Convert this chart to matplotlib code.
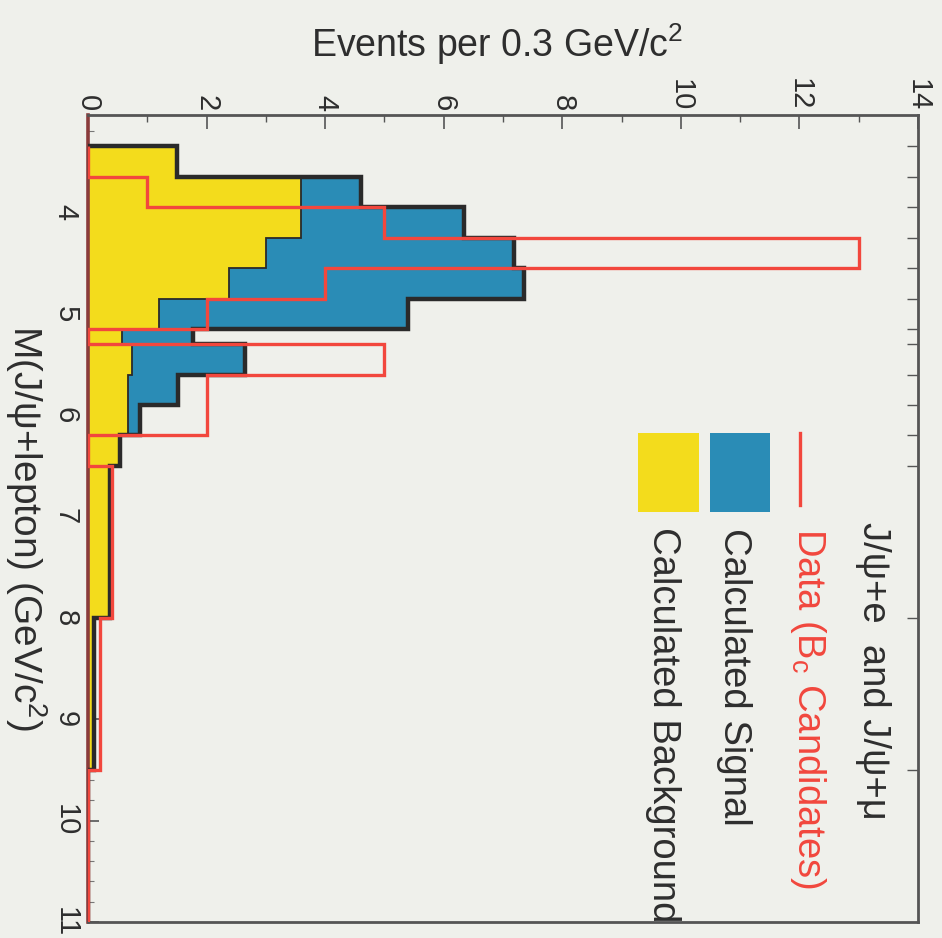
import matplotlib
matplotlib.use("Agg")
import matplotlib.pyplot as plt
from matplotlib.patches import Rectangle
from matplotlib.lines import Line2D
import numpy as np

plt.rcParams['font.family'] = ['Liberation Sans', 'DejaVu Sans']
plt.rcParams['mathtext.fontset'] = 'custom'
plt.rcParams['mathtext.rm'] = 'Liberation Sans'
plt.rcParams['mathtext.it'] = 'Liberation Sans'

# ---- data (events per 0.3 GeV/c^2) ----
bin_edges = [3.35, 3.65, 3.95, 4.25, 4.55, 4.85, 5.15, 5.30, 5.60, 5.90, 6.20, 6.50, 8.00, 9.50, 11.0]
background = [1.5, 3.6, 3.6, 3.0, 2.37, 1.2, 0.57, 0.74, 0.68, 0.67, 0.54, 0.37, 0.10, 0.0]
signal_plus_bkg = [1.5, 4.6, 6.35, 7.19, 7.36, 5.39, 1.77, 2.64, 1.52, 0.88, 0.54, 0.37, 0.10, 0.0]
data_counts = [0, 1, 5, 13, 4, 2, 0, 5, 2, 2, 0, 0.4, 0.2, 0]

x_ticks = [0, 2, 4, 6, 8, 10, 12, 14]
y_ticks = [4, 5, 6, 7, 8, 9, 10, 11]

BG = '#eff0eb'
YELLOW = '#f3dc1c'
BLUE = '#2a8cb6'
RED = '#f2473d'
DARK = '#2a2a2a'
TXT = '#2e2e2e'

fig = plt.figure(figsize=(9.42, 9.38), dpi=100, facecolor=BG)
ax = fig.add_axes([88/942, 1-922/938, 830/942, 807/938])
ax.set_facecolor(BG)

ax.stairs(signal_plus_bkg, bin_edges, orientation='horizontal', baseline=0,
          fill=True, color=BLUE, zorder=1)
ax.stairs(background, bin_edges, orientation='horizontal', baseline=0,
          fill=True, facecolor=YELLOW, edgecolor='none', zorder=2)
ax.stairs(background, bin_edges, orientation='horizontal', baseline=None,
          fill=False, color=DARK, lw=1.3, zorder=3)
ax.stairs(signal_plus_bkg, bin_edges, orientation='horizontal', baseline=0,
          fill=False, color=DARK, lw=3.2, zorder=4)
ax.stairs(data_counts, bin_edges, orientation='horizontal', baseline=0,
          fill=False, color=RED, lw=2.4, zorder=5)

ax.set_xlim(0, 14)
ax.set_ylim(11, 3.04)

# axes styling
for s in ax.spines.values():
    s.set_color('#555555')
    s.set_linewidth(2.0)
ax.spines['left'].set_color('#8a3b3b')
ax.spines['left'].set_linewidth(2.6)

ax.xaxis.tick_top()
ax.set_xticks(x_ticks)
ax.set_xticks(np.arange(1, 14, 2), minor=True)
ax.set_xticklabels([str(t) for t in x_ticks], rotation=-90, fontsize=21, color=TXT)
ax.tick_params(axis='x', which='major', direction='in', length=10, width=1.2,
               color='#555555', pad=3, top=True, bottom=False)
ax.tick_params(axis='x', which='minor', direction='in', length=5, width=1.0,
               color='#555555', top=True, bottom=False)

ax.set_yticks(y_ticks)
ax.set_yticks(np.arange(3.2, 11.0, 0.2), minor=True)
ax.set_yticklabels([str(t) for t in y_ticks], rotation=-90, fontsize=21, color=TXT,
                   va='center')
ax.tick_params(axis='y', which='major', direction='in', length=8, width=1.2,
               color='#555555', pad=6, left=True, right=False)
ax.tick_params(axis='y', which='minor', direction='in', length=4, width=0.8,
               color='#777777', left=True, right=False)

# right-hand ticks at bin edges
ax2 = ax.secondary_yaxis('right')
ax2.set_yticks(bin_edges[:-1])
ax2.set_yticklabels([])
ax2.tick_params(direction='in', length=8, width=1.0, color='#555555')
ax2.spines['right'].set_visible(False)

fig.text(497/942, 1-44/938, 'Events per 0.3 GeV/c$^2$', ha='center', va='center',
         fontsize=27, color=TXT)
fig.text(26/942, 1-528/938, 'M(J/ψ+lepton) (GeV/c$^2$)', ha='center', va='center',
         rotation=-90, fontsize=28, color=TXT)

# legend (rotated)
ax.add_patch(Rectangle((0.749, 0.508), 0.073, 0.098, transform=ax.transAxes,
                       facecolor=BLUE, edgecolor='none', zorder=6))
ax.add_patch(Rectangle((0.663, 0.508), 0.073, 0.098, transform=ax.transAxes,
                       facecolor=YELLOW, edgecolor='none', zorder=6))
ax.add_line(Line2D([0.858, 0.858], [0.517, 0.606], transform=ax.transAxes,
                   color=RED, lw=2.4, zorder=6))
ax.text(0.946, 0.496, 'J/ψ+e  and J/ψ+μ', transform=ax.transAxes, rotation=-90,
        ha='center', va='top', fontsize=27.5, color=TXT, zorder=7)
ax.text(0.868, 0.488, 'Data (B$_{\\rm c}$ Candidates)', transform=ax.transAxes, rotation=-90,
        ha='center', va='top', fontsize=27.5, color=RED, zorder=7)
ax.text(0.778, 0.488, 'Calculated Signal', transform=ax.transAxes, rotation=-90,
        ha='center', va='top', fontsize=27.5, color=TXT, zorder=7)
ax.text(0.693, 0.490, 'Calculated Background', transform=ax.transAxes, rotation=-90,
        ha='center', va='top', fontsize=27.5, color=TXT, zorder=7)

fig.savefig('out.png', dpi=100, facecolor=BG)
